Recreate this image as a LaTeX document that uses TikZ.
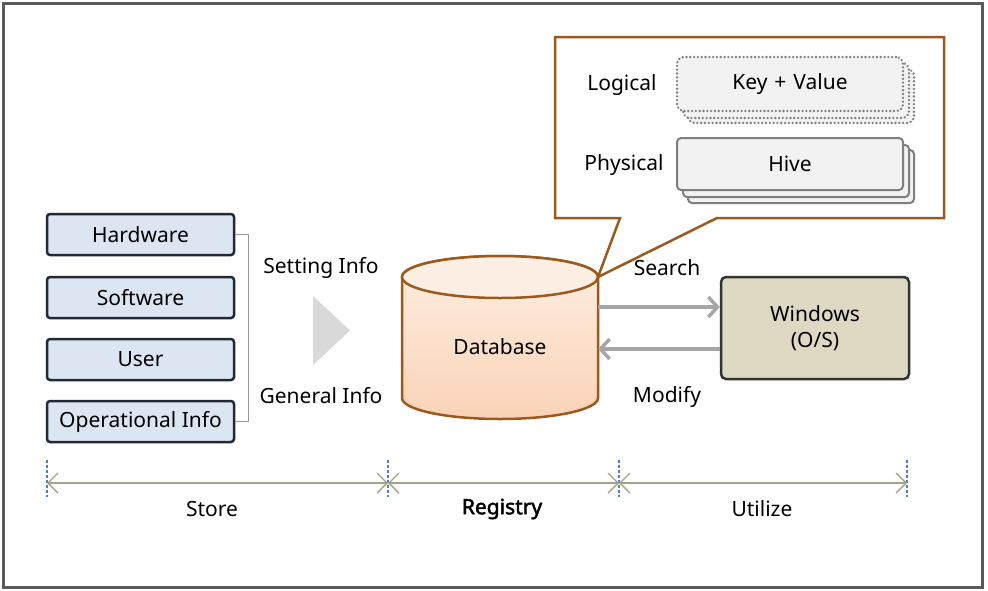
\documentclass[tikz,border=0pt]{standalone}
\usepackage{fontspec}
\setmainfont{Noto Sans}
\newfontfamily\boldnoto{Noto Sans}[FakeBold=2.2]
\usetikzlibrary{arrows.meta,shapes.geometric}
\definecolor{frame}{HTML}{5A5A5A}
\definecolor{boxblue}{HTML}{DCE6F2}
\definecolor{boxline}{HTML}{1F2A36}
\definecolor{brownline}{HTML}{9A5A1E}
\definecolor{peachtop}{HTML}{FDEEE3}
\definecolor{peachbot}{HTML}{FAD3B6}
\definecolor{winfill}{HTML}{DDD9C3}
\definecolor{arrowgray}{HTML}{A6A6A6}
\definecolor{tlblue}{HTML}{4F81BD}
\definecolor{tlline}{HTML}{A3A385}
\definecolor{stackfill}{HTML}{F2F2F2}
\definecolor{stackline}{HTML}{7F7F7F}
\tikzset{
  txt/.style={font=\fontsize{21}{24}\selectfont, inner sep=0pt},
  srcbox/.style={draw=boxline, line width=2.5pt, fill=boxblue, rounded corners=3pt,
    minimum width=187pt, minimum height=41pt, inner sep=0pt, font=\fontsize{21}{24}\selectfont},
  flowarrow/.style={draw=arrowgray, line width=4pt, -{Straight Barb[length=9pt,width=20pt,line width=3.5pt]}},
  tlarrow/.style={draw=tlline, line width=1.4pt, {Straight Barb[length=10pt,width=20pt]}-{Straight Barb[length=10pt,width=20pt]}},
  tlmark/.style={draw=tlblue, line width=2.6pt, dash pattern=on 2.5pt off 2.5pt},
  hivebox/.style={draw=stackline, line width=2pt, fill=stackfill, rounded corners=4pt},
  kvbox/.style={draw=stackline, line width=2.6pt, dash pattern=on 0.01pt off 3.8pt, line cap=round, fill=stackfill, rounded corners=7pt},
}
\begin{document}
\begin{tikzpicture}[x=1pt,y=-1pt]
\useasboundingbox (0,0) rectangle (988,590);
% outer frame
\draw[frame, line width=3pt] (3,3) rectangle (982,587);

% source boxes
\node[srcbox] (hw) at (140.5,234.5) {Hardware};
\node[srcbox] (sw) at (140.5,297.5) {Software};
\node[srcbox] (us) at (140.5,359.5) {User};
\node[srcbox] (op) at (140.5,421.5) {Operational Info};
\draw[stackline!80, line width=0.8pt] (hw.east) -- ++(13,0) |- (op.east);

\node[txt] (setting) at (321,268) {Setting Info};
\node[txt] (general) at (321,396) {General Info};
\fill[black!15] (313,296) -- (313,365) -- (350,330.5) -- cycle;

% database cylinder
\shade[top color=peachtop, bottom color=peachbot, draw=brownline, line width=2.5pt]
  (402,277) -- (402,398) arc[start angle=180, end angle=0, x radius=98, y radius=21]
  -- (598,277) arc[start angle=0, end angle=-180, x radius=98, y radius=21] -- cycle;
\draw[brownline, line width=2.5pt, fill=peachtop] (500,277) ellipse[x radius=98, y radius=21];
\node[inner sep=0pt, minimum width=196pt, minimum height=100pt] (db) at (500,328) {};
\node[txt] (dbl) at (500,347) {Database};

% callout
\coordinate (tip) at (598,277);
\draw[brownline, line width=2.5pt, fill=white, line join=miter]
  (555,37) -- (944,37) -- (944,218) -- (717,218) -- (tip) -- (620,218) -- (555,218) -- cycle;
\node[txt] (logical) at (622,85) {Logical};
\node[txt] (physical) at (624,165) {Physical};
\draw[kvbox] (688,69) rectangle (914,123);
\draw[kvbox] (683,63) rectangle (909,118);
\node[kvbox, minimum width=226pt, minimum height=54pt, inner sep=0pt, font=\fontsize{21}{24}\selectfont] (kv) at (790,84) {Key\,\,+\,\,Value};
\draw[hivebox] (688,150) rectangle (914,203);
\draw[hivebox] (683,145) rectangle (909,197);
\node[hivebox, minimum width=226pt, minimum height=52pt, inner sep=0pt, font=\fontsize{21}{24}\selectfont] (hive) at (790,164) {Hive};

% windows
\node[draw=black!80, line width=2.5pt, fill=winfill, rounded corners=5pt,
  minimum width=188pt, minimum height=102pt, align=center, inner sep=0pt,
  font=\fontsize{21}{26}\selectfont] (win) at (815,328) {Windows\\(O/S)};
\node[txt] (search) at (667,268) {Search};
\node[txt] (modify) at (667,397) {Modify};
\draw[flowarrow] ([yshift=21pt]db.east) -- ([yshift=21pt]win.west);
\draw[flowarrow] ([yshift=-21pt]win.west) -- ([yshift=-21pt]db.east);

% timeline
\coordinate (t0) at (47,483);
\coordinate (t1) at (388,483);
\coordinate (t2) at (619,483);
\coordinate (t3) at (907,483);
\foreach \c in {t0,t1,t2,t3} \draw[tlmark] ([yshift=23pt]\c) -- ([yshift=-14pt]\c);
\draw[tlarrow] (t0) -- (t1);
\draw[tlarrow] (t1) -- (t2);
\draw[tlarrow] (t2) -- (t3);
\node[txt] (store) at (212,509) {Store};
\node[inner sep=0pt, font=\fontsize{21}{24}\boldnoto] (reg) at (502,509) {Registry};
\node[txt] (util) at (762,509) {Utilize};
\end{tikzpicture}
\end{document}
